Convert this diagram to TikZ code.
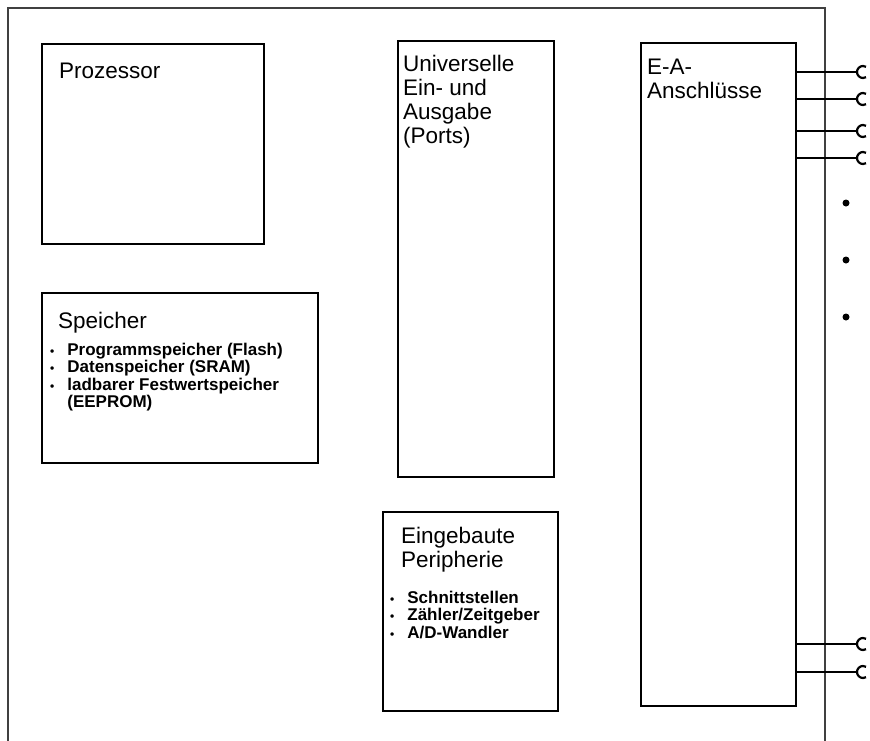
\documentclass[tikz,border=0pt]{standalone}
\usepackage{fontspec}
\setmainfont{Liberation Sans}
\usepackage{xcolor}
\usepackage{tikz}
\usetikzlibrary{calc}

\tikzset{
	block/.style={draw=black, line width=2pt, anchor=north west, inner sep=0pt},
	title/.style={anchor=north west, inner sep=0pt, align=left, font=\fontsize{22.5}{24}\selectfont},
	items/.style={anchor=north west, inner sep=0pt, font=\bfseries\fontsize{17}{17}\selectfont},
	pinline/.style={line width=1.6pt},
	pinring/.style={line width=2.2pt},
	pindot/.style={circle, fill=black, inner sep=0pt, minimum size=7pt}
}

\newcommand{\itm}{{\fontsize{12}{12}\selectfont\textbullet}}

\begin{document}
\begin{tikzpicture}[x=1pt, y=-1pt]
			\useasboundingbox (0,0) rectangle (870,740);
			% frame of the chip
			\draw[line width=1.3pt, black!75] (8,745) -- (8,8) -- (825,8) -- (825,745);

			\node[block, minimum width=222pt, minimum height=200pt] (proz) at (41,43) {};
			\node[block, minimum width=276pt, minimum height=170pt] (mem) at (41,292) {};
			\node[block, minimum width=156pt, minimum height=436pt] (ports) at (397,40) {};
			\node[block, minimum width=175pt, minimum height=199pt] (peri) at (382,511) {};
			\node[block, minimum width=155pt, minimum height=663pt] (ea) at (640,42) {};

			\node[title] (prozt) at (59,63) {Prozessor};
			\node[title] (memt) at (58,312) {Speicher};
			\node[items] (memi) at (50,343)
			{
				\begin{tabular}{@{}c@{\hspace{13pt}}l@{}}
					\itm & Programmspeicher (Flash) \\
					\itm & Datenspeicher (SRAM) \\
					\itm & ladbarer Festwertspeicher \\
					     & (EEPROM) \\
				\end{tabular}
			};
			\node[title] (portst) at (403,55) {Universelle\\Ein- und\\Ausgabe\\(Ports)};
			\node[title] (perit) at (401,527) {Eingebaute\\Peripherie};
			\node[items] (perii) at (390,591)
			{
				\begin{tabular}{@{}c@{\hspace{13pt}}l@{}}
					\itm & Schnittstellen \\
					\itm & Zähler/Zeitgeber \\
					\itm & A/D-Wandler \\
				\end{tabular}
			};
			\node[title] (eat) at (647,59) {E-A-\\Anschlüsse};

			% pins
			\foreach \n/\y in {1/72, 2/99, 3/131, 4/158, 5/644, 6/672}
			{
				\coordinate (p\n) at (857,\y);
				\draw[pinline] (ea.east |- p\n) -- (p\n);
				\draw[pinring] (p\n) arc[start angle=180, end angle=60, radius=6pt];
				\draw[pinring] (p\n) arc[start angle=180, end angle=300, radius=6pt];
			}
			\foreach \n/\y in {1/203, 2/260, 3/317}
				\node[pindot] (dot\n) at (846,\y) {};
		\end{tikzpicture}
\end{document}
